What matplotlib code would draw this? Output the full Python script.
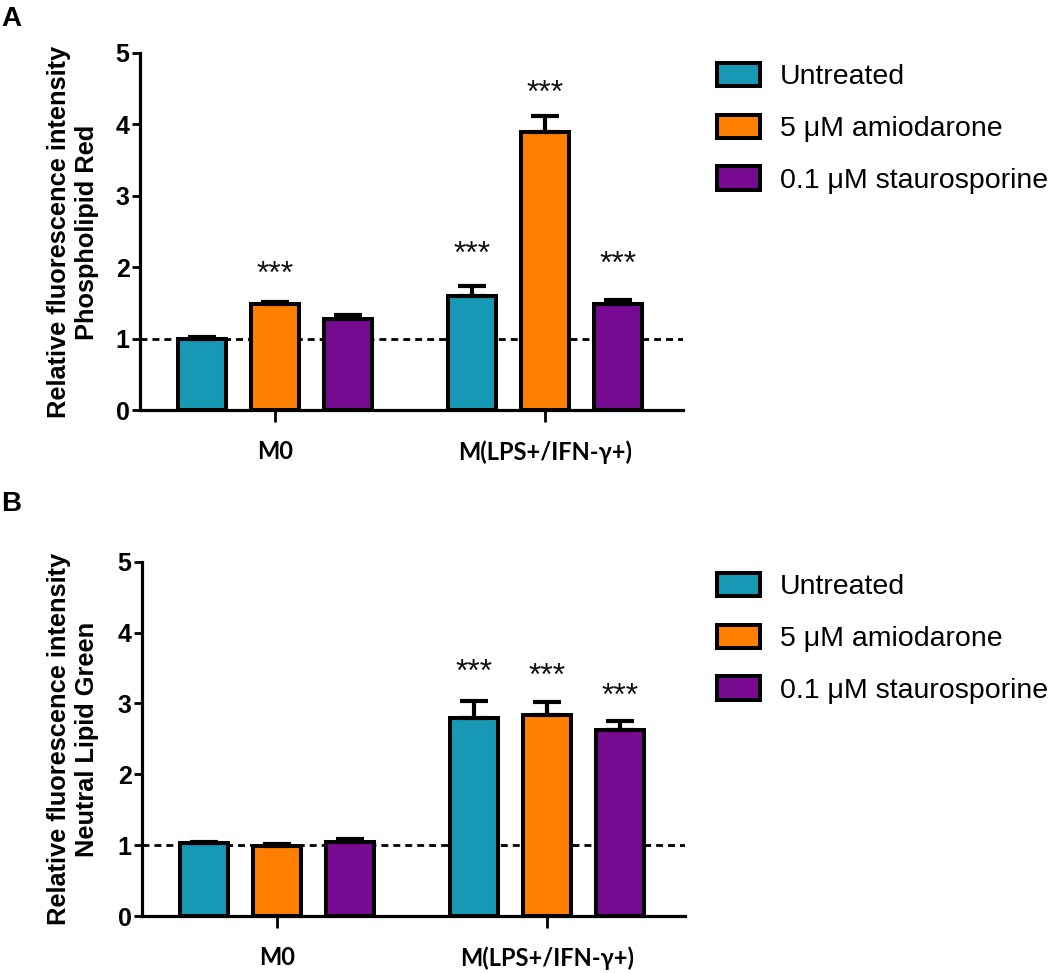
import numpy as np
import matplotlib.pyplot as plt
from matplotlib.patches import Patch

# groups and treatments
groups = ['M0', 'M(LPS+/IFN-γ+)']
treatments = ['Untreated', '5 μM amiodarone', '0.1 μM staurosporine']
colors = ['#1798B4', '#FF8000', '#760A91']

# panel A - Phospholipid Red (rows = treatment, cols = group)
red_mean = [[1.00, 1.60], [1.49, 3.89], [1.28, 1.49]]
red_err = [[0.02, 0.13], [0.02, 0.22], [0.05, 0.05]]
red_stars = [[None, 2.17], [1.89, 4.43], [None, 2.03]]

# panel B - Neutral Lipid Green
green_mean = [[1.03, 2.79], [0.99, 2.83], [1.05, 2.63]]
green_err = [[0.02, 0.25], [0.02, 0.19], [0.04, 0.12]]
green_stars = [[None, 3.43], [None, 3.38], [None, 3.09]]

W, H = 1063, 973
fig = plt.figure(figsize=(W / 100, H / 100), dpi=100)

def px(x, y):
    return x / W, 1 - y / H

def draw_panel(rect, means, errs, stars, ylabel, label, label_y, ycenter, leg_top):
    ax = fig.add_axes(rect)
    x = np.arange(len(groups))
    offsets = [-0.27, 0.0, 0.27]
    ax.axhline(1, color='black', lw=2, ls=(0, (2.5, 1.8)), zorder=1)
    for i, t in enumerate(treatments):
        xs = x + offsets[i]
        ax.bar(xs, means[i], width=0.178, color=colors[i], edgecolor='black',
               linewidth=2.9, zorder=2, label=t)
        ax.errorbar(xs, means[i], yerr=[np.zeros(len(groups)), errs[i]], fmt='none',
                    ecolor='black', elinewidth=3, capsize=10, capthick=3, zorder=3)
        for xi, s in zip(xs, stars[i]):
            if s is not None:
                ax.text(xi, s, '***', ha='center', va='center', fontsize=23,
                        family='Liberation Sans', color='#111111')
    ax.set_xlim(-0.5, 1.511)
    ax.set_ylim(0, 5)
    ax.set_yticks(range(6))
    ax.set_xticks(x)
    ax.set_xticklabels(groups, fontsize=17, fontweight='bold', family='Lato')
    for tl in ax.get_yticklabels():
        tl.set_fontsize(18)
        tl.set_fontweight('bold')
        tl.set_family('Liberation Sans')
    ax.tick_params(axis='y', direction='out', length=6, width=2, pad=1.5)
    ax.tick_params(axis='x', direction='out', length=8.6, width=2, pad=13)
    for s in ['top', 'right']:
        ax.spines[s].set_visible(False)
    for s in ['left', 'bottom']:
        ax.spines[s].set_linewidth(2.3)
        ax.spines[s].set_zorder(4)
    fx, fy = px(73, ycenter)
    fig.text(fx, fy, ylabel, rotation=90, ha='center', va='center', fontsize=18.3,
             fontweight='bold', family='Liberation Sans', linespacing=1.2)
    lx, ly = px(1, label_y)
    fig.text(lx, ly, label, ha='left', va='top', fontsize=20, fontweight='bold',
             family='Liberation Sans')
    handles = [Patch(facecolor=c, edgecolor='black', linewidth=2.9) for c in colors]
    gx, gy = px(717, leg_top)
    ax.legend(handles, treatments, loc='upper left', bbox_to_anchor=(gx, gy),
              bbox_transform=fig.transFigure, frameon=False, borderpad=0,
              borderaxespad=0, handlelength=1.5, handleheight=0.88,
              handletextpad=0.7, labelspacing=0.85,
              prop={'family': 'Liberation Sans', 'size': 20.5})
    return ax

draw_panel([140 / W, 1 - 410 / H, 543 / W, (410 - 52.7) / H], red_mean, red_err, red_stars,
           'Relative fluorescence intensity\nPhospholipid Red', 'A', 6, 232, 63)
draw_panel([142 / W, 1 - 916 / H, 543 / W, (916 - 561.7) / H], green_mean, green_err,
           green_stars, 'Relative fluorescence intensity\nNeutral Lipid Green', 'B', 491,
           739, 573)

fig.savefig('out.png', dpi=100)
